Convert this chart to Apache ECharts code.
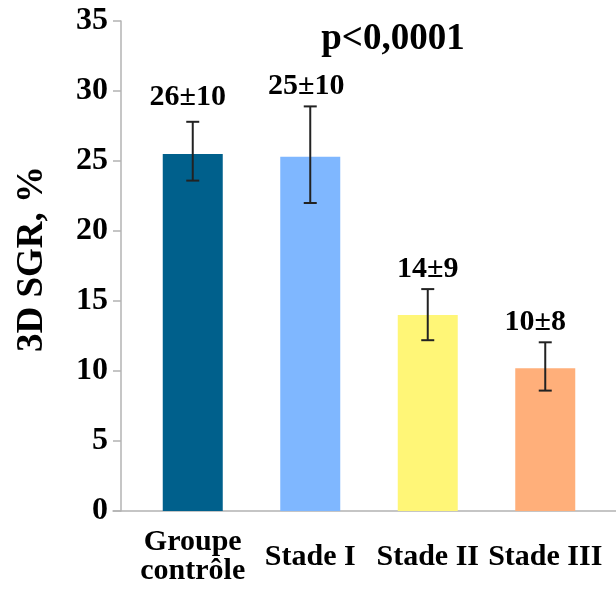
<!DOCTYPE html>
<html>
<head>
<meta charset="utf-8">
<style>
html,body{margin:0;padding:0;background:#fff;}
#c{width:616px;height:595px;}
</style>
<script src="https://cdn.jsdelivr.net/npm/echarts@6/dist/echarts.min.js"></script>
</head>
<body>
<div id="c"></div>
<script>
const categories = ['Groupe\ncontrôle', 'Stade I', 'Stade II', 'Stade III'];
const means = [25.5, 25.3, 14.0, 10.2];
const errLow = [23.6, 22.0, 12.2, 8.6];
const errHigh = [27.8, 28.9, 15.85, 12.05];
const valueLabels = ['26±10', '25±10', '14±9', '10±8'];
const pValueText = 'p<0,0001';
const yTicks = [0, 5, 10, 15, 20, 25, 30, 35];

const barColors = ['#00608C', '#7FB7FF', '#FFF677', '#FFAF7A'];
const labelShift = [[-5, -5], [-4, 0], [0, 0], [-10, 0]];
const FONT = '"Liberation Serif", "Times New Roman", serif';

const chart = echarts.init(document.getElementById('c'));
chart.setOption({
  animation: false,
  backgroundColor: '#fff',
  grid: [
    {left: 134, right: 12, top: 21, bottom: 84},
    {left: 113, right: 0, top: 21, bottom: 84}
  ],
  xAxis: [
    {
      type: 'category', data: categories, gridIndex: 0,
      axisLine: {show: false}, axisTick: {show: false},
      axisLabel: {
        fontFamily: FONT, fontWeight: 'bold', fontSize: 30, color: '#000',
        margin: 46, verticalAlign: 'middle', lineHeight: 29, interval: 0
      }
    },
    {
      type: 'value', gridIndex: 1, min: 0, max: 1,
      axisLine: {show: true, lineStyle: {color: '#b3b3b3', width: 1.5}},
      axisTick: {show: false}, axisLabel: {show: false}, splitLine: {show: false}
    }
  ],
  yAxis: [
    {
      type: 'value', gridIndex: 0, min: yTicks[0], max: yTicks[yTicks.length - 1], interval: 5,
      offset: 13,
      name: '3D SGR, %', nameLocation: 'middle', nameGap: 70,
      nameTextStyle: {fontFamily: FONT, fontWeight: 'bold', fontSize: 37, color: '#000', padding: [0, 0, 0, 14]},
      axisLine: {show: true, lineStyle: {color: '#b3b3b3', width: 1.5}},
      axisTick: {show: true, length: 8, lineStyle: {color: '#b3b3b3', width: 1.5}},
      axisLabel: {fontFamily: FONT, fontWeight: 'bold', fontSize: 32, color: '#000', margin: 13},
      splitLine: {show: false}
    },
    {type: 'value', gridIndex: 1, show: false, min: 0, max: 1}
  ],
  series: [
    {
      type: 'bar', xAxisIndex: 0, yAxisIndex: 0, barWidth: 60, z: 2,
      data: means.map((v, i) => ({value: v, itemStyle: {color: barColors[i]}}))
    },
    {
      type: 'custom', xAxisIndex: 0, yAxisIndex: 0, z: 10,
      data: means.map((v, i) => [i, errLow[i], errHigh[i]]),
      renderItem: function (params, api) {
        const i = api.value(0);
        const lo = api.coord([i, api.value(1)]);
        const hi = api.coord([i, api.value(2)]);
        const x = lo[0];
        const cap = 6.5;
        const st = {stroke: '#222', lineWidth: 2};
        return {
          type: 'group',
          children: [
            {type: 'line', shape: {x1: x, y1: lo[1], x2: x, y2: hi[1]}, style: st},
            {type: 'line', shape: {x1: x - cap, y1: lo[1], x2: x + cap, y2: lo[1]}, style: st},
            {type: 'line', shape: {x1: x - cap, y1: hi[1], x2: x + cap, y2: hi[1]}, style: st},
            {
              type: 'text',
              style: {
                text: valueLabels[params.dataIndex],
                x: x + labelShift[params.dataIndex][0],
                y: hi[1] - 20 + labelShift[params.dataIndex][1],
                align: 'center', verticalAlign: 'middle',
                font: 'bold 30px ' + FONT, fill: '#000'
              }
            }
          ]
        };
      }
    }
  ],
  graphic: [
    {
      type: 'text', x: 393, y: 39,
      style: {
        text: pValueText, align: 'center', verticalAlign: 'middle',
        font: 'bold 37px ' + FONT, fill: '#000'
      }
    }
  ]
});
</script>
</body>
</html>
